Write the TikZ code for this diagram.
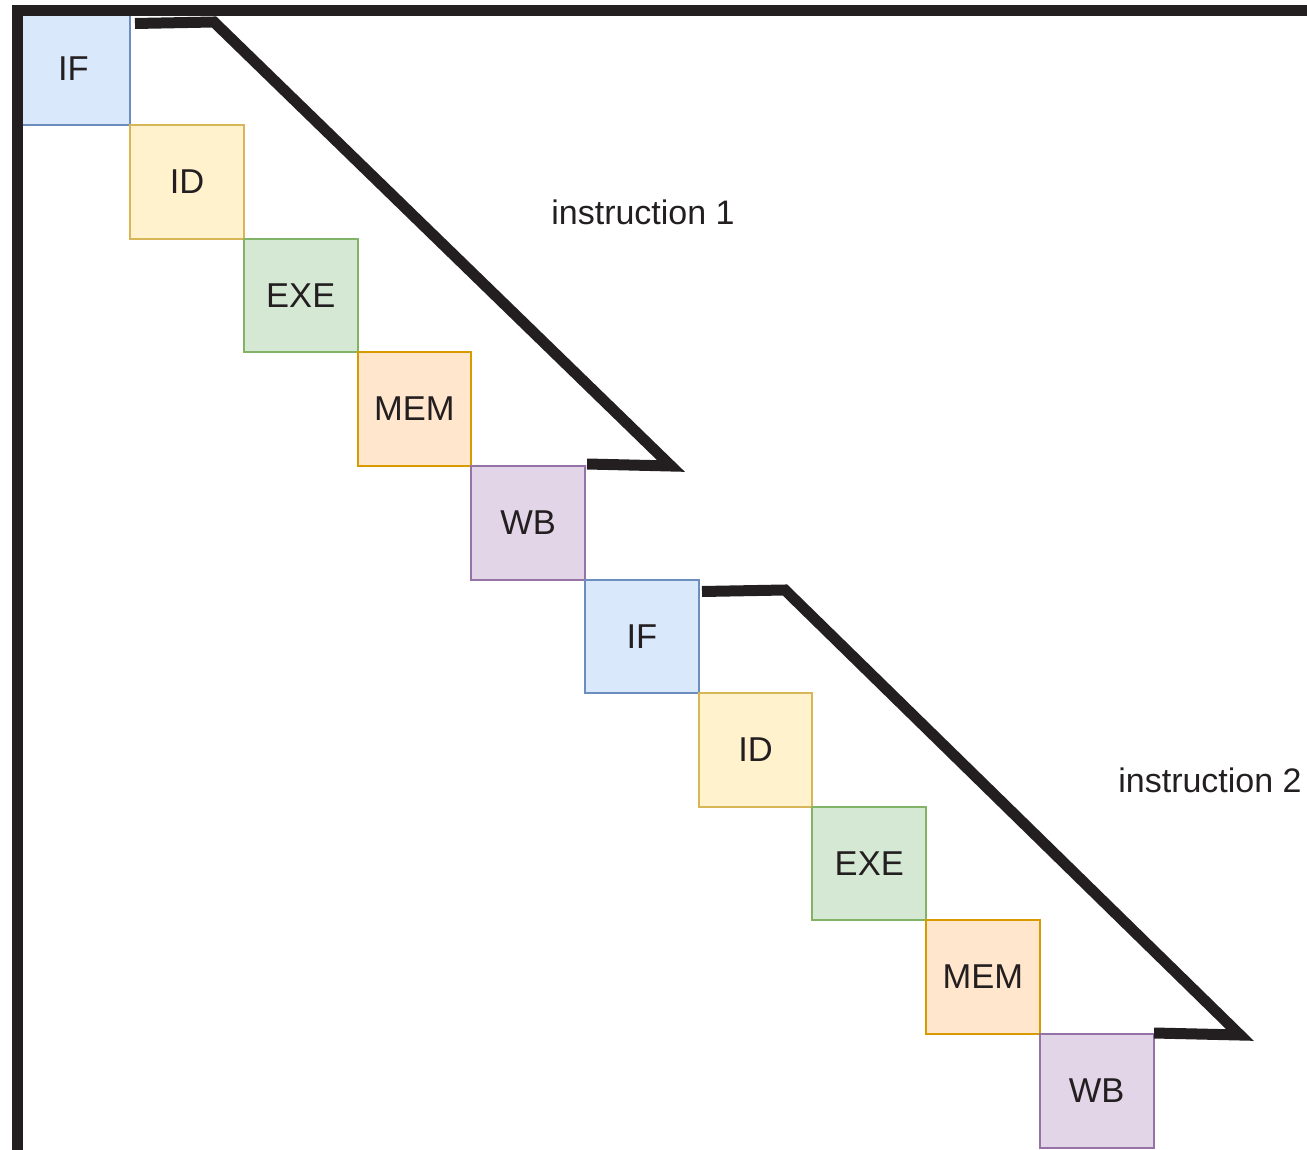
\documentclass[tikz,border=0pt]{standalone}
\usepackage{fontspec}
\setmainfont{Liberation Sans}
\begin{document}
\begin{tikzpicture}[x=1pt,y=-1pt,
  stage/.style={draw, line width=2pt, minimum width=113.7pt, minimum height=113.6pt, inner sep=0pt, font=\fontsize{34.5}{40}\selectfont, text=ink},
  sif/.style={stage, fill=ifF, draw=ifD},
  sid/.style={stage, fill=idF, draw=idD},
  sexe/.style={stage, fill=exF, draw=exD},
  smem/.style={stage, fill=meF, draw=meD},
  swb/.style={stage, fill=wbF, draw=wbD},
  heavy/.style={draw=ink, line width=11pt, miter limit=10},
  lbl/.style={font=\fontsize{34}{40}\selectfont, text=ink, inner sep=0pt}]
\definecolor{ink}{HTML}{231F20}
\definecolor{ifF}{HTML}{DAE8FC}\definecolor{ifD}{HTML}{6C8EBF}
\definecolor{idF}{HTML}{FFF2CC}\definecolor{idD}{HTML}{D6B656}
\definecolor{exF}{HTML}{D5E8D4}\definecolor{exD}{HTML}{82B366}
\definecolor{meF}{HTML}{FFE6CC}\definecolor{meD}{HTML}{D79B00}
\definecolor{wbF}{HTML}{E1D5E7}\definecolor{wbD}{HTML}{9673A6}
\useasboundingbox (0,0) rectangle (1307,1150);
\clip (0,0) rectangle (1307,1150);
% stages
\node[sif]  (if1)  at (73.35,68.3) {IF};
\node[sid]  (id1)  at (187.05,181.9) {ID};
\node[sexe] (exe1) at (300.75,295.5) {EXE};
\node[smem] (mem1) at (414.45,409.1) {MEM};
\node[swb]  (wb1)  at (528.15,522.7) {WB};
\node[sif]  (if2)  at (641.85,636.3) {IF};
\node[sid]  (id2)  at (755.55,749.9) {ID};
\node[sexe] (exe2) at (869.25,863.5) {EXE};
\node[smem] (mem2) at (982.95,977.1) {MEM};
\node[swb]  (wb2)  at (1096.65,1090.7) {WB};
% axes
\draw[heavy] (17.3,1160) -- (17.3,10.5) -- (1320,10.5);
% instruction brackets
\coordinate (a1) at (135,23.5);
\coordinate (b1) at (214,22);
\coordinate (c1) at (671,466);
\coordinate (d1) at (587,464);
\draw[heavy] (a1) -- (b1) -- (c1) -- (d1);
\coordinate (a2) at (702,591.5);
\coordinate (b2) at (785,590);
\coordinate (c2) at (1240,1035);
\coordinate (d2) at (1154,1033);
\draw[heavy] (a2) -- (b2) -- (c2) -- (d2);
\node[lbl] (t1) at (643,212) {instruction 1};
\node[lbl] (t2) at (1210,780) {instruction 2};
\end{tikzpicture}
\end{document}
